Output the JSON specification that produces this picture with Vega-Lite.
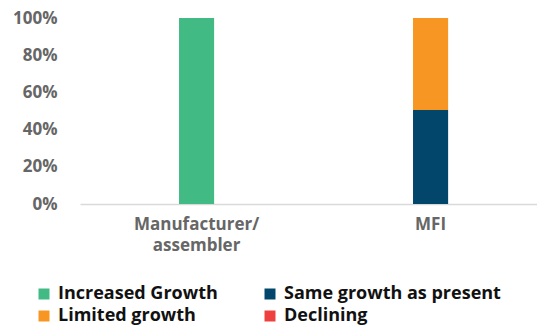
{
  "$schema": "https://vega.github.io/schema/vega-lite/v6.json",
  "width": 457,
  "height": 186,
  "autosize": {"type": "none"},
  "padding": {"left": 80, "top": 18, "right": 0, "bottom": 122},
  "background": "white",
  "config": {
    "view": {"stroke": null},
    "font": "Open Sans"
  },
  "data": {
    "values": [
      {"category": "Manufacturer/ assembler", "response": "Increased Growth", "value": 100, "ord": 1},
      {"category": "Manufacturer/ assembler", "response": "Same growth as present", "value": 0, "ord": 2},
      {"category": "Manufacturer/ assembler", "response": "Limited growth", "value": 0, "ord": 3},
      {"category": "Manufacturer/ assembler", "response": "Declining", "value": 0, "ord": 4},
      {"category": "MFI", "response": "Increased Growth", "value": 0, "ord": 1},
      {"category": "MFI", "response": "Same growth as present", "value": 50.5, "ord": 2},
      {"category": "MFI", "response": "Limited growth", "value": 49.5, "ord": 3},
      {"category": "MFI", "response": "Declining", "value": 0, "ord": 4}
    ]
  },
  "mark": {"type": "bar"},
  "encoding": {
    "x": {
      "field": "category",
      "type": "nominal",
      "sort": null,
      "scale": {"paddingInner": 0.85, "paddingOuter": 0.4015, "align": 0.527},
      "axis": {
        "title": null,
        "labelAngle": 0,
        "labelExpr": "split(datum.label, ' ')",
        "labelFontSize": 17,
        "labelFontWeight": "bold",
        "labelColor": "#666666",
        "labelPadding": 12,
        "labelLineHeight": 21,
        "ticks": false,
        "domainColor": "#d9d9d9",
        "domainWidth": 1.5
      }
    },
    "y": {
      "field": "value",
      "type": "quantitative",
      "stack": "normalize",
      "scale": {"domain": [0, 1]},
      "axis": {
        "title": null,
        "values": [0, 0.2, 0.4, 0.6, 0.8, 1],
        "format": ".0%",
        "grid": false,
        "domain": false,
        "ticks": false,
        "labelFontSize": 17,
        "labelFontWeight": "bold",
        "labelColor": "#666666",
        "labelPadding": 23
      }
    },
    "color": {
      "field": "response",
      "type": "nominal",
      "scale": {
        "domain": ["Increased Growth", "Same growth as present", "Limited growth", "Declining"],
        "range": ["#41BA84", "#03466C", "#F79622", "#EF4040"]
      },
      "legend": {
        "title": null,
        "orient": "none",
        "direction": "horizontal",
        "legendX": -45,
        "legendY": 267,
        "columns": 2,
        "symbolType": "square",
        "symbolSize": 121,
        "symbolStrokeWidth": 0,
        "labelFontSize": 18,
        "labelFontWeight": "bold",
        "labelColor": "#111111",
        "labelOffset": 5,
        "labelLimit": 400,
        "columnPadding": 43,
        "rowPadding": 4
      }
    },
    "order": {"field": "ord", "type": "quantitative"}
  }
}
